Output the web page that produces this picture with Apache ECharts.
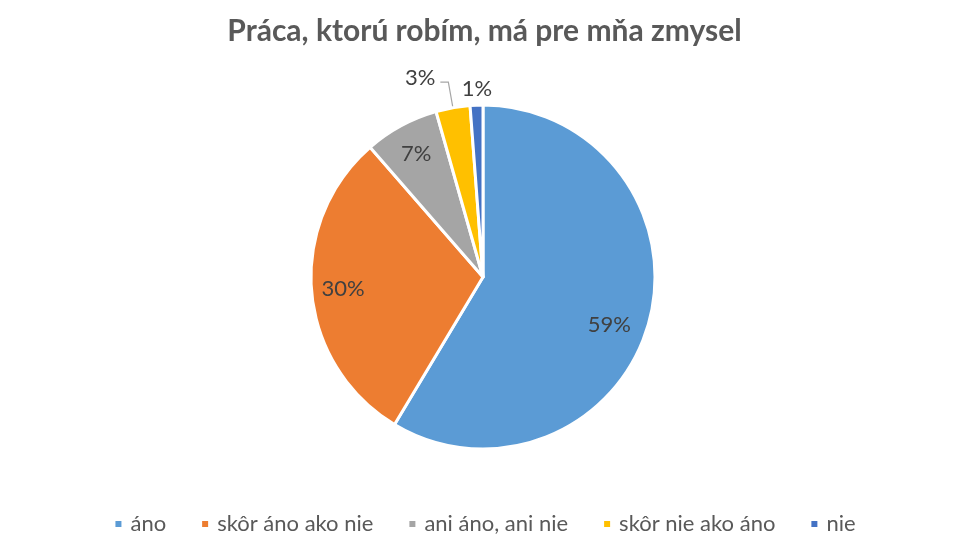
<!DOCTYPE html>
<html>
<head>
<meta charset="utf-8">
<script src="https://cdn.jsdelivr.net/npm/echarts@6/dist/echarts.min.js"></script>
<style>
  html, body { margin: 0; padding: 0; background: #fff; }
  #chart { width: 969px; height: 554px; }
</style>
</head>
<body>
<div id="chart"></div>
<script>
var categories = ['áno', 'skôr áno ako nie', 'ani áno, ani nie', 'skôr nie ako áno', 'nie'];
var values = [58.6, 30.0, 7.0, 3.2, 1.2];
var colors = ['#5B9BD5', '#ED7D31', '#A5A5A5', '#FFC000', '#4472C4'];
var insideLabel = [true, true, true, false, false];

var chart = echarts.init(document.getElementById('chart'));
var font = 'Lato, "Open Sans", sans-serif';
function pct(p) { return Math.round(p.percent) + '%'; }

// base slices; small ones carry their own outside labels
var baseData = categories.map(function (name, i) {
    var item = { name: name, value: values[i], itemStyle: { color: colors[i] } };
    if (insideLabel[i]) {
        item.label = { show: false };
    } else if (i === 3) {
        item.label = { show: true };
        item.labelLine = { show: true, length: 26, length2: 8 };
    } else {
        item.label = { show: true };
        item.labelLine = { show: false, length: 8, length2: 0 };
    }
    return item;
});

// transparent ring, only used to put inside labels further out
var labelData = categories.map(function (name, i) {
    return { name: name, value: values[i], label: { show: insideLabel[i] } };
});

chart.setOption({
    animation: false,
    title: {
        text: 'Práca, ktorú robím, má pre mňa zmysel',
        left: 'center', top: 11,
        textStyle: { fontFamily: font, fontSize: 30, fontWeight: 'bold', color: '#595959' }
    },
    legend: {
        data: categories,
        bottom: 14, left: 'center',
        icon: 'rect', itemWidth: 8, itemHeight: 8, itemGap: 34,
        textStyle: { fontFamily: font, fontSize: 22, color: '#595959', padding: [0, 0, 0, 3] }
    },
    series: [
        {
            type: 'pie',
            center: [483, 277],
            radius: 172,
            startAngle: 90,
            clockwise: true,
            avoidLabelOverlap: false,
            itemStyle: { borderColor: '#fff', borderWidth: 3 },
            label: { position: 'outside', formatter: pct, fontFamily: font, fontSize: 22, color: '#404040' },
            labelLine: { lineStyle: { color: '#a6a6a6', width: 1.2 }, smooth: false },
            labelLayout: function (p) {
                if (p.dataIndex === 4) return { dx: 21, dy: -8 };
                if (p.dataIndex === 3) return { dy: -4 };
            },
            emphasis: { disabled: true },
            data: baseData
        },
        {
            type: 'pie',
            center: [483, 277],
            radius: [103, 172],
            startAngle: 90,
            clockwise: true,
            silent: true,
            avoidLabelOverlap: false,
            itemStyle: { color: 'rgba(0,0,0,0)', borderWidth: 0 },
            label: { position: 'inside', formatter: pct, fontFamily: font, fontSize: 22, color: '#404040' },
            labelLine: { show: false },
            labelLayout: function (p) {
                if (p.dataIndex === 0) return { dx: -9, dy: 10 };
            },
            emphasis: { disabled: true },
            data: labelData
        }
    ]
});

window.addEventListener('resize', function () { chart.resize(); });
</script>
</body>
</html>
